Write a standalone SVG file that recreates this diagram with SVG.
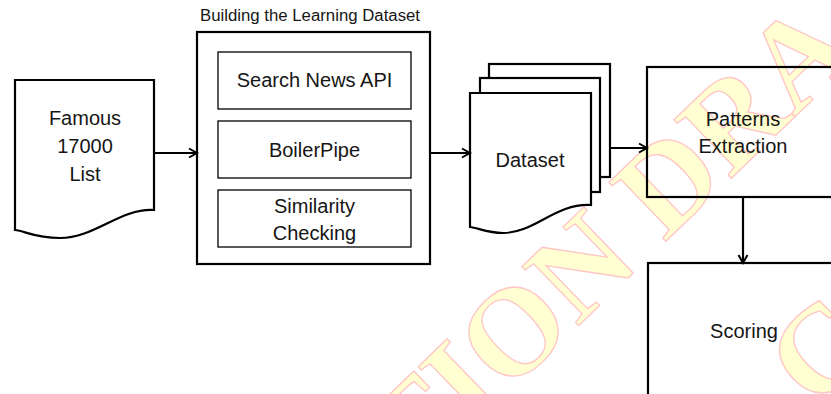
<svg xmlns="http://www.w3.org/2000/svg" width="831" height="394" viewBox="0 0 831 394">
  <defs>
    <style>
      .lbl { font-family: "Liberation Sans", Arial, sans-serif; font-size: 20px; fill: #161616; text-anchor: middle; }
      .cap { font-family: "Liberation Sans", Arial, sans-serif; font-size: 16px; fill: #161616; }
      .shape { fill: none; stroke: #000; stroke-width: 2.2; }
      .page { fill: #fff; stroke: #000; stroke-width: 2.2; }
      .inner { fill: none; stroke: #000; stroke-width: 1.3; }
      .edge { fill: none; stroke: #000; stroke-width: 2.2; }
      .wm { font-family: "Liberation Serif", "Times New Roman", serif; font-weight: bold; font-size: 125px; fill: #ffffd2; stroke: #ffc6c6; stroke-width: 1.3; }
    </style>
    <marker id="arrow" markerWidth="12" markerHeight="12" refX="10" refY="6" orient="auto" markerUnits="userSpaceOnUse">
      <path d="M2,1.5 L10,6 L2,10.5" fill="none" stroke="#000" stroke-width="2"/>
    </marker>
  </defs>

  <rect width="831" height="394" fill="#fff"/>

  <!-- background watermark -->
  <g id="watermark" transform="translate(412,486.5) rotate(-44)">
    <text class="wm" x="0" y="0">TION DRA</text>
    <text class="wm" x="343" y="228">C</text>
  </g>

  <!-- source document -->
  <g id="famous-list">
    <path class="shape" d="M15,80 H154 V210 C120,208 95,238 60,238 C35,238 25,231 15,230 Z"/>
    <text class="lbl" x="85" y="125">Famous</text>
    <text class="lbl" x="85" y="153">17000</text>
    <text class="lbl" x="85" y="181">List</text>
  </g>

  <!-- dataset building stage -->
  <g id="building-dataset">
    <text class="cap" x="200" y="21" textLength="220" lengthAdjust="spacingAndGlyphs">Building the Learning Dataset</text>
    <rect class="shape" x="197" y="32" width="233" height="232"/>
    <g id="search-news-api">
      <rect class="inner" x="218" y="52" width="193" height="57"/>
      <text class="lbl" x="314.5" y="87">Search News API</text>
    </g>
    <g id="boilerpipe">
      <rect class="inner" x="218" y="121" width="193" height="57"/>
      <text class="lbl" x="314.5" y="157">BoilerPipe</text>
    </g>
    <g id="similarity-checking">
      <rect class="inner" x="218" y="190" width="193" height="57"/>
      <text class="lbl" x="314.5" y="213">Similarity</text>
      <text class="lbl" x="314.5" y="240">Checking</text>
    </g>
  </g>

  <!-- stacked documents -->
  <g id="dataset">
    <rect class="page" x="489" y="64" width="121" height="113"/>
    <rect class="page" x="480" y="78" width="120" height="114"/>
    <path class="page" d="M470,93 H591 V205 C555,203 535,233 503,233 C488,233 478,228 470,227 Z"/>
    <text class="lbl" x="530" y="167">Dataset</text>
  </g>

  <g id="patterns-extraction">
    <rect class="shape" x="647" y="67" width="200" height="130"/>
    <text class="lbl" x="743" y="126">Patterns</text>
    <text class="lbl" x="743" y="153">Extraction</text>
  </g>

  <g id="scoring">
    <rect class="shape" x="648" y="263" width="200" height="150"/>
    <text class="lbl" x="744" y="338">Scoring</text>
  </g>

  <g id="connectors">
    <line class="edge" x1="154" y1="153" x2="197" y2="153" marker-end="url(#arrow)"/>
    <line class="edge" x1="430" y1="153" x2="470" y2="153" marker-end="url(#arrow)"/>
    <line class="edge" x1="610" y1="148" x2="647" y2="148" marker-end="url(#arrow)"/>
    <line class="edge" x1="743" y1="197" x2="743" y2="263" marker-end="url(#arrow)"/>
  </g>
</svg>
